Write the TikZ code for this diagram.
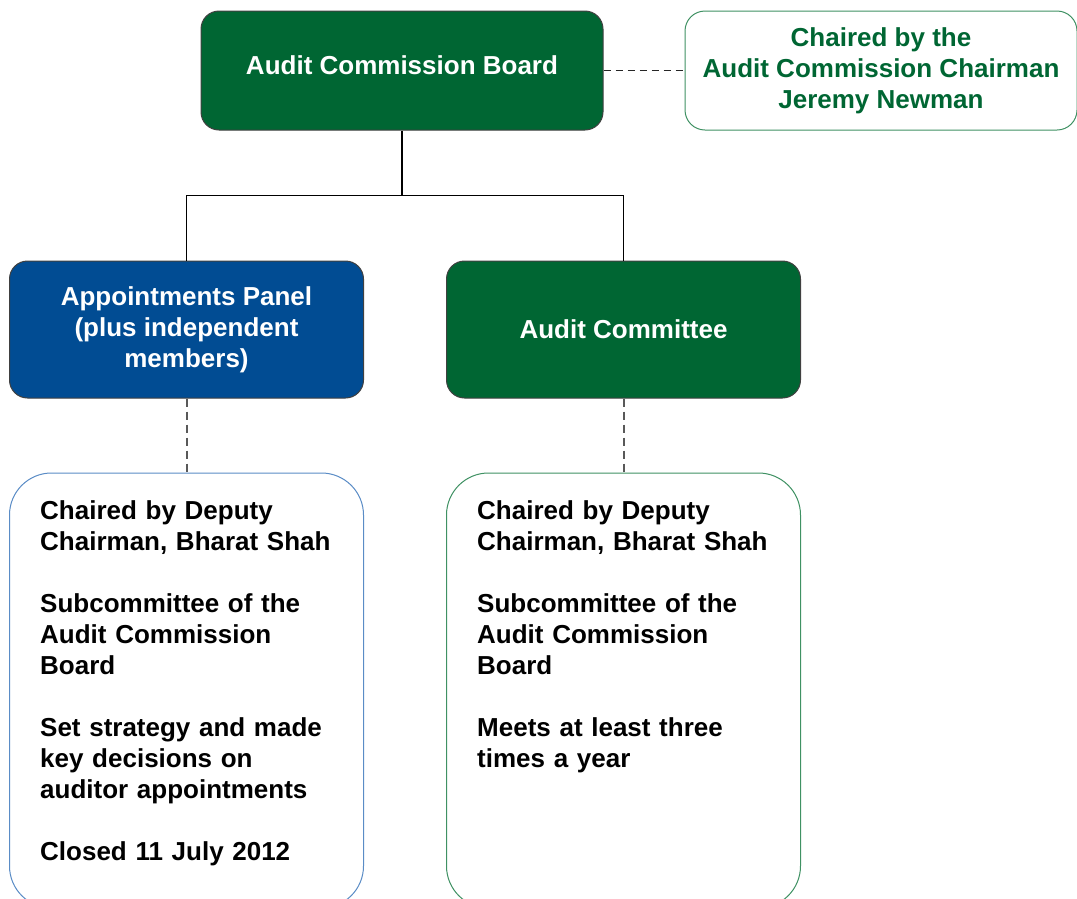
\documentclass[tikz,border=0pt]{standalone}
\usepackage{fontspec}
\setmainfont{Liberation Sans}
\usepackage{tikz}
\usetikzlibrary{positioning}

\definecolor{acgreen}{HTML}{006633}
\definecolor{acblue}{HTML}{014C93}
\definecolor{chairline}{HTML}{3F9163}
\definecolor{panelline}{HTML}{5A8CC6}
\definecolor{committeeline}{HTML}{3F9163}

\tikzstyle{headbox} = [rectangle, rounded corners=18pt, draw=black!75,
    line width=1pt, text=white, align=center, inner sep=0pt,
    minimum width=354pt, minimum height=137pt]
\tikzstyle{sidebox} = [rectangle, rounded corners=20pt, draw=chairline,
    line width=1pt, text=acgreen, align=center, inner sep=0pt,
    minimum width=392pt, minimum height=119pt]
\tikzstyle{notebox} = [rectangle, rounded corners=42pt, fill=white,
    line width=1pt, minimum width=354pt, minimum height=435pt]
\tikzstyle{notetext} = [anchor=north west, text width=310pt, align=left,
    inner sep=0pt]
\tikzstyle{link} = [draw, black, line width=1.4pt]
\tikzstyle{dotlink} = [draw, black!65, line width=2pt,
    dash pattern=on 8pt off 5pt]

\begin{document}
\begin{tikzpicture}[x=1pt, y=-1pt, node distance=80pt,
    font=\fontsize{26}{31}\selectfont\bfseries]
    \path[use as bounding box, clip] (0,0) rectangle (1077,898);

    % Nodes
    \node[headbox, fill=acgreen, minimum width=402pt, minimum height=119pt,
        text depth=10pt] (board) at (402,70.5) {Audit Commission Board};
    \node[sidebox, right=81pt of board] (chair)
        {Chaired by the\\Audit Commission Chairman\\Jeremy Newman};
    \node[headbox, fill=acblue, below=130pt of board, xshift=-215.5pt] (panel)
        {Appointments Panel\\(plus independent\\members)};
    \node[headbox, fill=acgreen, right=82pt of panel] (committee)
        {Audit Committee};
    \node[notebox, draw=panelline, below=74pt of panel] (panelnotes) {};
    \node[notebox, draw=committeeline, below=74pt of committee] (committeenotes) {};

    \node[notetext] (paneltext) at ([shift={(31pt,-28pt)}]panelnotes.north west)
        {Chaired by Deputy\\Chairman, Bharat Shah\\[31pt]
         Subcommittee of the\\Audit Commission\\Board\\[31pt]
         Set strategy and made\\key decisions on\\auditor appointments\\[31pt]
         Closed 11 July 2012};
    \node[notetext] (committeetext) at ([shift={(31pt,-28pt)}]committeenotes.north west)
        {Chaired by Deputy\\Chairman, Bharat Shah\\[31pt]
         Subcommittee of the\\Audit Commission\\Board\\[31pt]
         Meets at least three\\times a year};

    % Edges
    \coordinate (fork) at ([yshift=-65pt]board.south);
    \path[link] (board.south) -- (fork);
    \path[link] (fork) -| (panel.north);
    \path[link] (fork) -| (committee.north);
    \path[dotlink, black!85, line width=1.5pt, dash pattern=on 7pt off 5pt]
        (board.east) -- (chair.west);
    \path[dotlink] (panel.south) -- (panelnotes.north);
    \path[dotlink] (committee.south) -- (committeenotes.north);
\end{tikzpicture}
\end{document}
